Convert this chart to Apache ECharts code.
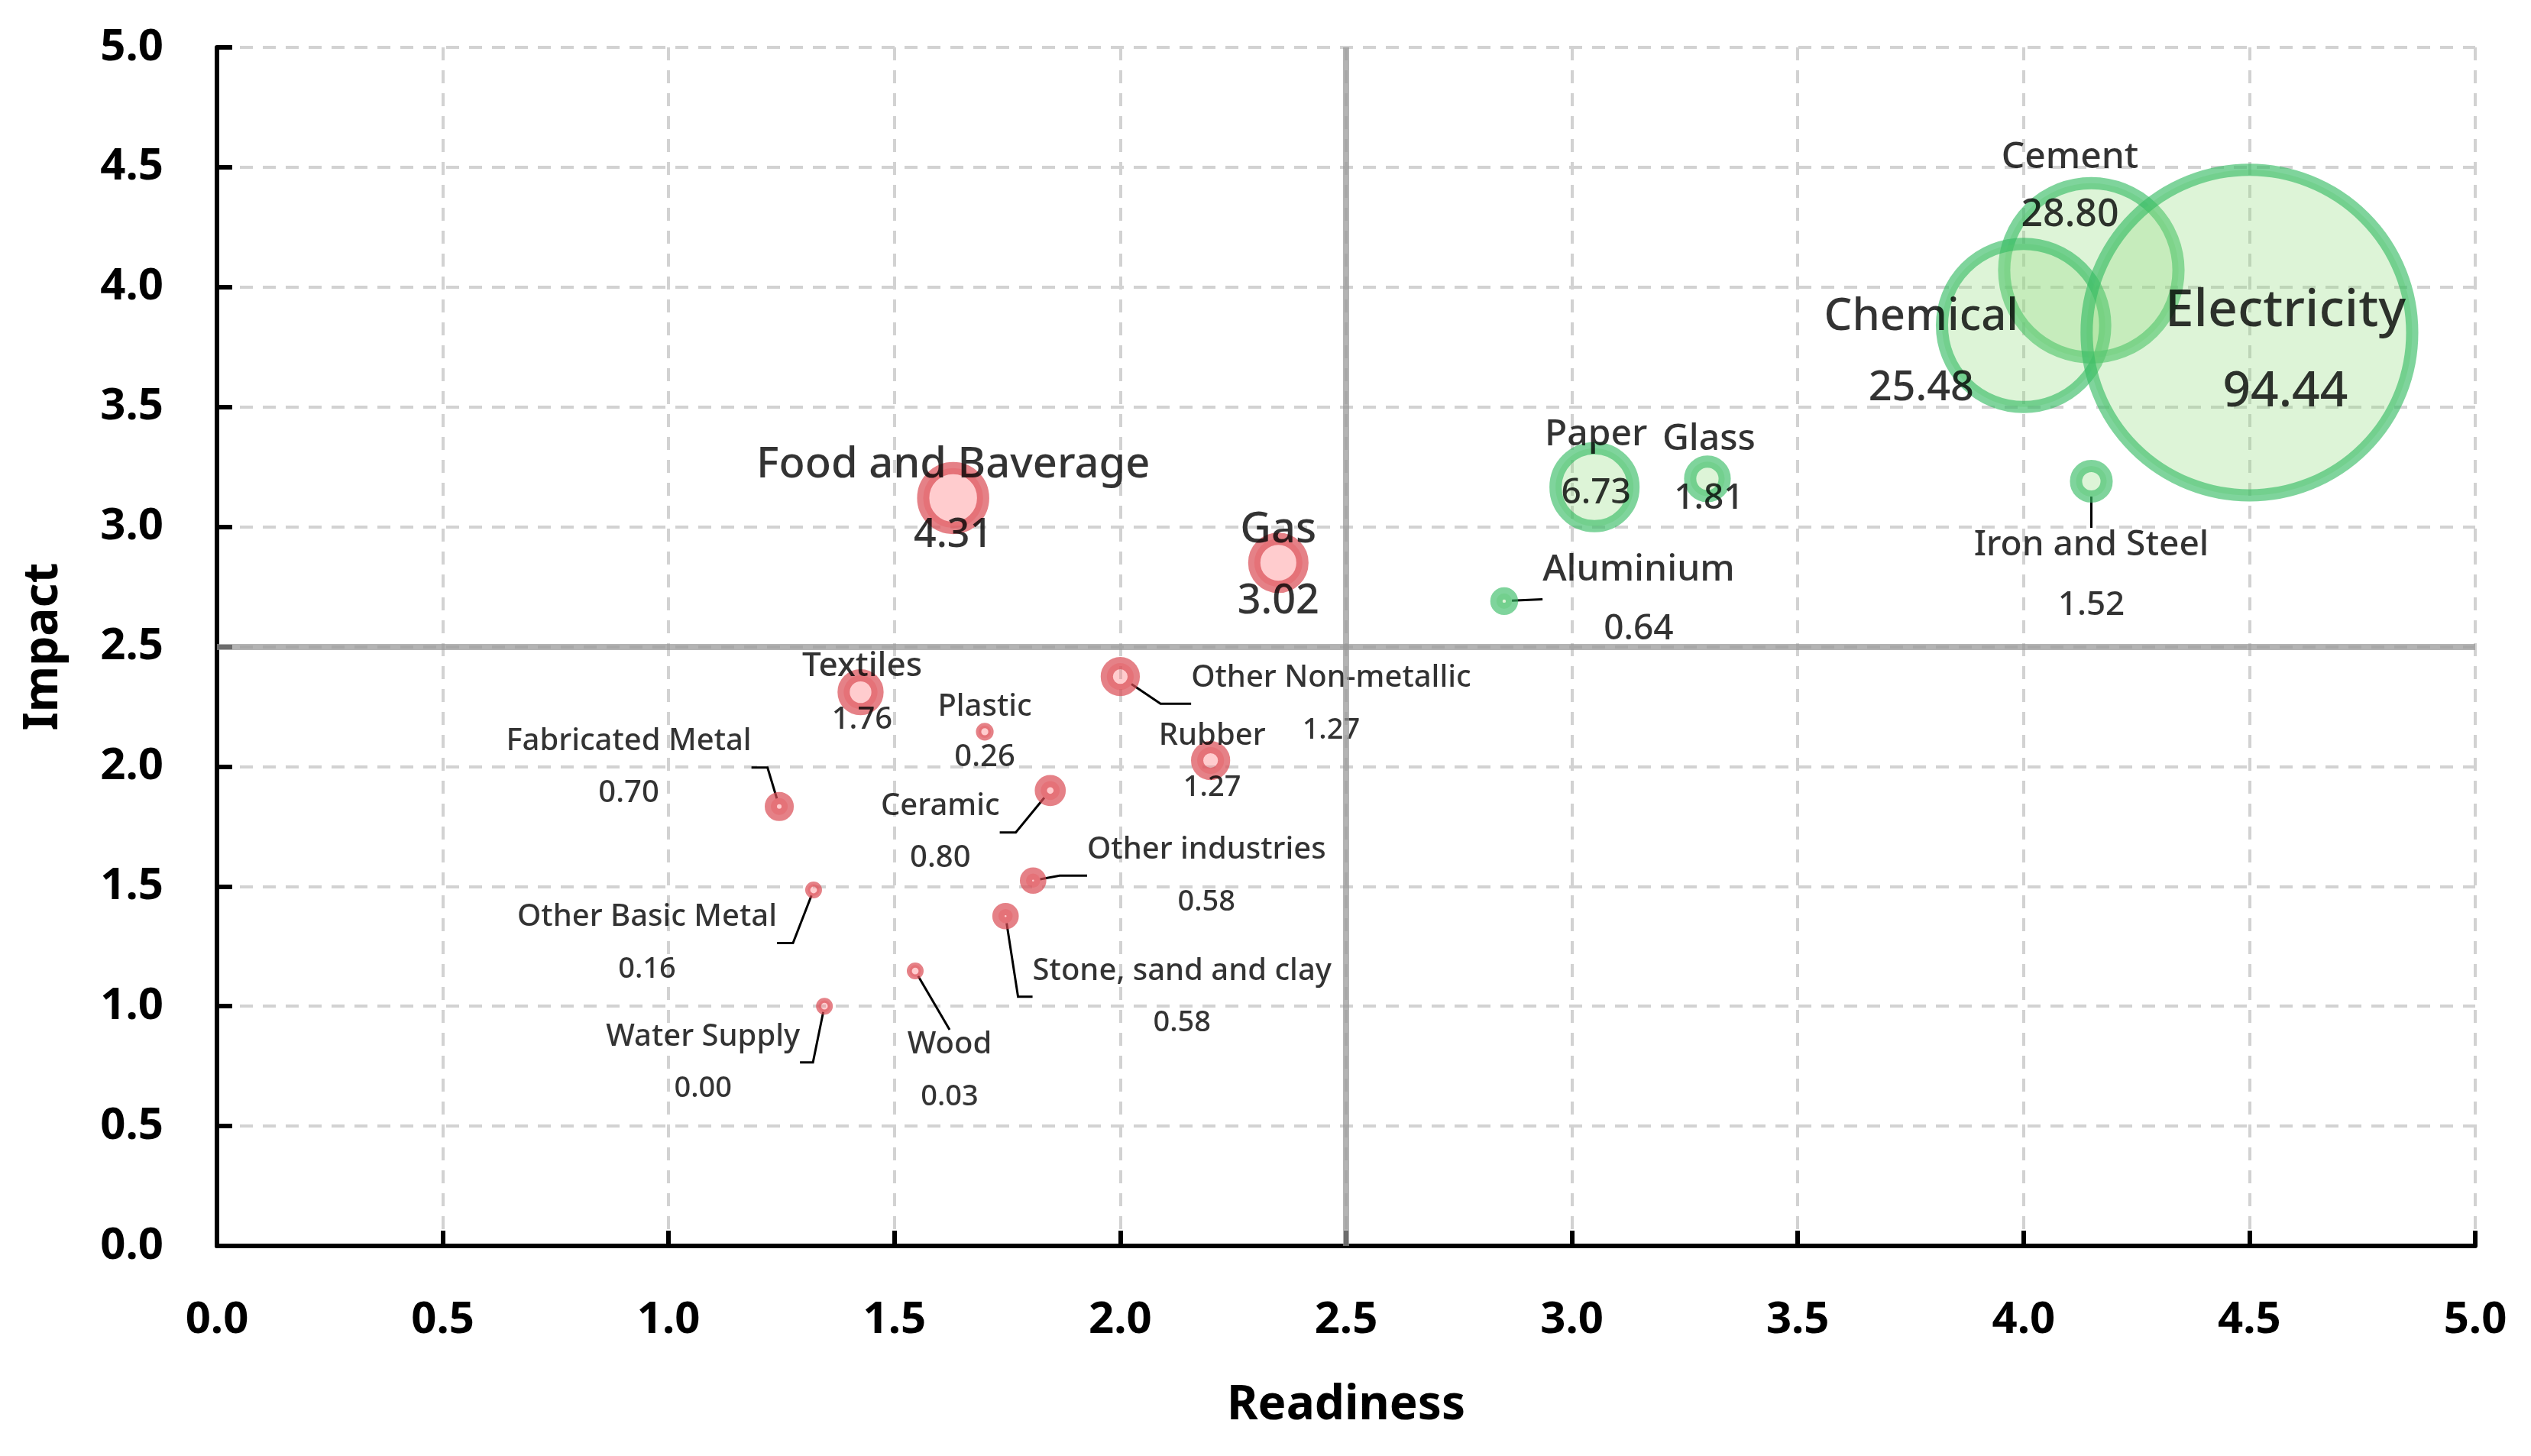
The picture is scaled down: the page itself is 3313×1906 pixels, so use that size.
<!DOCTYPE html>
<html><head><meta charset="utf-8">
<script src="https://cdn.jsdelivr.net/npm/echarts@6/dist/echarts.min.js"></script>
<style>html,body{margin:0;padding:0;background:#fff}#c{width:3313px;height:1906px}</style>
</head><body><div id="c"></div>
<script>
// ---- data ----
const redNames = ['Food and Baverage','Gas','Textiles','Other Non-metallic','Plastic','Rubber','Fabricated Metal','Ceramic','Other industries','Other Basic Metal','Stone, sand and clay','Wood','Water Supply'];
const redReadiness = [1.63, 2.35, 1.425, 2.0, 1.70, 2.20, 1.245, 1.845, 1.807, 1.321, 1.746, 1.546, 1.345];
const redImpact = [3.12, 2.85, 2.31, 2.375, 2.145, 2.025, 1.833, 1.90, 1.524, 1.485, 1.376, 1.147, 1.0];
const redEmission = [4.31, 3.02, 1.76, 1.27, 0.26, 1.27, 0.70, 0.80, 0.58, 0.16, 0.58, 0.03, 0.00];

const greenNames = ['Cement','Chemical','Electricity','Paper','Glass','Iron and Steel','Aluminium'];
const greenReadiness = [4.15, 4.0, 4.50, 3.05, 3.30, 4.15, 2.85];
const greenImpact = [4.07, 3.84, 3.81, 3.165, 3.20, 3.19, 2.69];
const greenEmission = [28.80, 25.48, 94.44, 6.73, 1.81, 1.52, 0.64];

const axisTicks = ['0.0','0.5','1.0','1.5','2.0','2.5','3.0','3.5','4.0','4.5','5.0'];
const quadrantSplit = 2.5;

// ---- label layout / styles (px) ----
// [nameFontSize, valueFontSize, lineHeight, dx, dy, leaderLength2 or null]
const labelStyles = {
  'Food and Baverage': [56, 52, 92, 0, 3, null],
  'Gas': [56, 54, 93, 0, 4, null],
  'Textiles': [44, 40, 70, 2, 1, null],
  'Other Non-metallic': [40, 38, 68, 276, 36, 40],
  'Plastic': [40, 40, 66, 0, 1, null],
  'Rubber': [40, 38, 68, 2, 2, null],
  'Fabricated Metal': [40, 40, 68, -197, -51, 21],
  'Ceramic': [40, 40, 68, -144, 55, 21],
  'Other industries': [40, 38, 68, 227, -6, 36],
  'Other Basic Metal': [40, 38, 68, -218, 70, 21],
  'Stone, sand and clay': [40, 38, 68, 231, 106, 19],
  'Wood': [40, 38, 68, 45, 131, 0],
  'Water Supply': [40, 38, 68, -159, 74, 17],
  'Cement': [48, 50, 76, -28, -110, null],
  'Chemical': [58, 54, 93, -134, 36, null],
  'Electricity': [68, 64, 106, 47, 25, null],
  'Paper': [48, 46, 76, 2, -30, null],
  'Glass': [48, 46, 78, 2, -13, null],
  'Iron and Steel': [46, 44, 78, 0, 123, 0],
  'Aluminium': [48, 46, 78, 176, -2, 0]
};

const FONT = 'Noto Sans';

function buildItems(names, xs, ys, vs) {
  return names.map((n, i) => {
    const st = labelStyles[n];
    const D = Math.max(22, 45.5 * Math.sqrt(vs[i]));
    const bw = D < 30 ? D * 0.3 : Math.min(16, D / 2);
    const txt = { fontFamily: FONT, fontWeight: 500, color: '#000', align: 'center', lineHeight: st[2],
      textBorderWidth: 0, textShadowBlur: 0 };
    return {
      name: n,
      value: [xs[i], ys[i], vs[i]],
      symbolSize: D - bw,
      itemStyle: { borderWidth: bw },
      label: {
        offset: [st[3], st[4]],
        rich: {
          n: Object.assign({ fontSize: st[0] }, txt),
          v: Object.assign({ fontSize: st[1] }, txt)
        }
      },
      labelLine: st[5] == null ? { show: false } : { show: true, length2: st[5], smooth: false,
        lineStyle: { color: '#000', width: 3 } }
    };
  });
}

const seriesLabel = {
  show: true,
  position: 'inside',
  align: 'center',
  verticalAlign: 'middle',
  fontFamily: FONT,
  fontWeight: 500,
  color: '#000',
  textBorderWidth: 0,
  formatter: p => '{n|' + p.name + '}\n{v|' + p.value[2].toFixed(2) + '}'
};

const axisCommon = {
  type: 'value', min: 0, max: 5, interval: 0.5,
  axisLine: { show: true, lineStyle: { color: '#000', width: 6, cap: 'round' } },
  axisTick: { show: true, inside: true, length: 20, lineStyle: { color: '#000', width: 6 } },
  splitLine: { show: true, lineStyle: { color: '#d2d2d2', width: 4, type: [17, 13] } },
  axisLabel: {
    fontFamily: FONT, fontWeight: 'bold', fontSize: 58, color: '#000',
    formatter: v => axisTicks[Math.round(v / 0.5)]
  },
  nameLocation: 'middle',
  nameTextStyle: { fontFamily: FONT, fontWeight: 'bold', fontSize: 62, color: '#000' }
};

const chart = echarts.init(document.getElementById('c'), null, { renderer: 'canvas' });
chart.setOption({
  animation: false,
  backgroundColor: '#fff',
  grid: { left: 284, right: 73, top: 62, bottom: 275, containLabel: false },
  xAxis: Object.assign({}, axisCommon, {
    name: 'Readiness', nameGap: 178,
    axisLabel: Object.assign({}, axisCommon.axisLabel, { margin: 68 })
  }),
  yAxis: Object.assign({}, axisCommon, {
    name: 'Impact', nameGap: 196,
    axisLabel: Object.assign({}, axisCommon.axisLabel, { margin: 70 })
  }),
  series: [
    {
      type: 'scatter',
      name: 'Lagging',
      data: buildItems(redNames, redReadiness, redImpact, redEmission),
      itemStyle: { color: 'rgba(255,120,125,0.47)', borderColor: 'rgba(218,76,84,0.88)' },
      label: seriesLabel,
      emphasis: { disabled: true },
      markLine: {
        silent: true, symbol: 'none', label: { show: false }, animation: false,
        lineStyle: { color: 'rgba(150,150,150,0.72)', width: 8, type: 'solid' },
        emphasis: { disabled: true },
        data: [{ xAxis: quadrantSplit }, { yAxis: quadrantSplit }]
      }
    },
    {
      type: 'scatter',
      name: 'Leading',
      data: buildItems(greenNames, greenReadiness, greenImpact, greenEmission),
      itemStyle: { color: 'rgba(150,220,130,0.40)', borderColor: 'rgba(55,188,100,0.8)' },
      label: seriesLabel,
      emphasis: { disabled: true }
    }
  ]
});
</script>
</body></html>
